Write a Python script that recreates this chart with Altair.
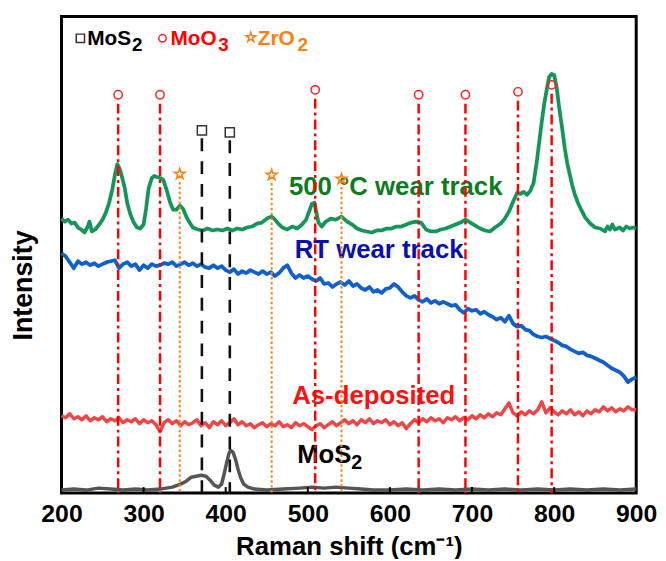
import altair as alt
import pandas as pd

FONT = "Liberation Sans"

# ---------------- data (intensity in arbitrary units) ----------------
grid5 = list(range(200, 905, 5))

rt_wear = [
    242, 239, 233, 227, 234, 231, 233, 230, 232, 229,
    231, 233, 234, 235, 227, 231, 233, 229, 231, 225,
    230, 227, 231, 229, 230, 232, 231, 233, 229, 231,
    233, 230, 232, 229, 231, 228, 227, 230, 227, 229,
    225, 223, 226, 221, 224, 222, 225, 223, 221, 224,
    221, 223, 219, 222, 227, 230, 222, 217, 220, 217,
    219, 216, 214, 217, 211, 212, 208, 211, 213, 210,
    214, 209, 211, 207, 205, 208, 203, 205, 202, 206,
    207, 211, 208, 203, 199, 197, 199, 195, 193, 196,
    192, 194, 191, 193, 191, 189, 190, 185, 182, 186,
    184, 185, 181, 183, 180, 178, 175, 177, 173, 179,
    171, 168, 169, 165, 164, 160, 158, 157, 158, 156,
    154, 152, 149, 148, 145, 143, 141, 142, 139, 138,
    136, 134, 132, 129, 126, 124, 122, 118, 112, 115,
    117,
]

as_dep = [
    78, 76, 80, 75, 77, 74, 78, 73, 76, 74,
    77, 72, 75, 73, 76, 71, 74, 72, 75, 70,
    74, 71, 73, 69, 62, 71, 74, 70, 73, 68,
    72, 69, 71, 74, 68, 71, 66, 72, 69, 73,
    68, 71, 75, 69, 72, 68, 70, 66, 69, 71,
    67, 70, 68, 72, 67, 69, 66, 71, 68, 70,
    67, 64, 68, 70, 66, 69, 72, 68, 71, 74,
    70, 73, 69, 74, 71, 75, 70, 73, 71, 74,
    69, 72, 68, 71, 65, 70, 74, 71, 75, 72,
    76, 73, 75, 71, 76, 74, 77, 73, 76, 74,
    78, 75, 79, 76, 80, 77, 81, 79, 85, 91,
    81, 78, 82, 79, 83, 80, 84, 92, 81, 86,
    82, 79, 83, 80, 84, 79, 82, 78, 83, 80,
    84, 82, 87, 83, 86, 82, 85, 83, 87, 84,
    84,
]

hot_x = [
    200, 204, 208, 212, 216, 220, 224, 228, 232, 234,
    237, 241, 246, 250, 254, 258, 262, 265, 268, 271,
    274, 277, 280, 284, 288, 292, 296, 300, 303, 306,
    310, 313, 316, 320, 324, 328, 332, 336, 340, 344,
    348, 352, 356, 360, 366, 372, 378, 384, 390, 396,
    402, 408, 414, 420, 426, 432, 438, 444, 450, 456,
    460, 464, 469, 475, 481, 487, 493, 498, 502, 505,
    508, 510, 513, 517, 522, 528, 534, 541, 548, 554,
    560, 566, 572, 578, 584, 590, 596, 602, 608, 614,
    620, 626, 632, 638, 644, 650, 656, 662, 668, 674,
    680, 686, 692, 698, 704, 710, 716, 722, 728, 735,
    740, 745, 750, 755, 759, 763, 767, 771, 775, 779,
    782, 785, 788, 791, 794, 797, 800, 803, 806, 810,
    813, 816, 819, 822, 825, 829, 833, 838, 844, 850,
    856, 862, 865, 868, 871, 874, 880, 884, 888, 892,
    896, 900,
]
hot_wear = [
    277, 274, 276, 272, 273, 268, 266, 263, 269, 274,
    264, 266, 271, 276, 283, 293, 307, 321, 332, 327,
    318, 308, 293, 281, 273, 268, 267, 271, 287, 307,
    318, 320, 319, 318, 316, 306, 294, 286, 286, 290,
    287, 279, 273, 268, 266, 265, 267, 265, 266, 265,
    267, 265, 267, 266, 268, 269, 272, 273, 277, 279,
    276, 272, 268, 266, 269, 267, 271, 276, 285, 292,
    293, 285, 273, 269, 274, 277, 276, 279, 274, 271,
    267, 265, 264, 263, 265, 265, 267, 267, 269, 269,
    271, 273, 274, 273, 266, 264, 264, 266, 267, 269,
    271, 273, 276, 273, 270, 267, 265, 264, 268, 272,
    277, 284, 294, 303, 302, 304, 301, 305, 313, 335,
    355, 375, 393, 407, 420, 423, 422, 410, 390, 367,
    348, 333, 322, 311, 302, 293, 286, 278, 272, 268,
    267, 264, 269, 266, 271, 266, 268, 265, 269, 267,
    268, 267,
]

mos2_x = [200, 215, 230, 245, 260, 275, 290, 305, 320, 335, 345, 352, 358, 364,
          370, 376, 381, 386, 391, 395, 398, 401, 404, 406, 409, 412, 415, 418,
          422, 427, 435, 450, 470, 490, 505, 520, 535, 550, 565, 580, 600, 620,
          640, 660, 680, 700, 720, 740, 760, 780, 800, 820, 840, 860, 880, 900]
mos2_ref = [3, 4, 3, 5, 4, 3, 4, 3, 4, 6, 9, 12, 16, 17,
            18, 17, 13, 8, 6, 9, 19, 30, 40, 43, 41, 34, 24, 16,
            9, 6, 4, 3, 4, 5, 6, 5, 6, 5, 4, 3, 3, 4,
            3, 4, 3, 4, 3, 4, 3, 4, 3, 4, 3, 4, 3, 4]

# peak assignments: position (cm-1) and marker height
moo3_pos = [269, 320, 509, 635, 692, 756, 797]
moo3_mark = [402, 402, 407, 402, 402, 405, 412]
mos2_pos = [371, 405]
mos2_mark = [366, 364]
zro2_pos = [344, 456, 541]
zro2_mark = [322, 321, 317]

x_ticks = [200, 300, 400, 500, 600, 700, 800, 900]

assert len(rt_wear) == len(grid5) == len(as_dep)
assert len(hot_x) == len(hot_wear)
assert len(mos2_x) == len(mos2_ref)

STAR = ("M0,-1L0.2245,-0.309L0.951,-0.309L0.3633,0.118L0.5878,0.809L0,0.382"
        "L-0.5878,0.809L-0.3633,0.118L-0.951,-0.309L-0.2245,-0.309Z")

# ---------------- scales / axes ----------------
xs = alt.Scale(domain=[200, 900], nice=False, zero=False)
ys = alt.Scale(domain=[0, 481], nice=False, zero=False)

x_axis = alt.Axis(orient="bottom", values=x_ticks, format="d", labelFont=FONT,
                  labelFontSize=25, labelFontWeight="bold", labelColor="black",
                  ticks=False, domain=False, grid=False, labelPadding=9,
                  labelFlush=False, title="Raman shift (cm⁻¹)", titleFont=FONT,
                  titleFontSize=26, titleFontWeight="bold", titleColor="black",
                  titlePadding=7)
y_axis = alt.Axis(orient="left", labels=False, ticks=False, domain=False, grid=False,
                  title="Intensity", titleFont=FONT, titleFontSize=27,
                  titleFontWeight="bold", titleColor="black",
                  titleX=-24, titleY=271)

X = alt.X("x:Q", scale=xs, axis=x_axis)
Y = alt.Y("y:Q", scale=ys, axis=y_axis)


def line_layer(xv, yv, color, width):
    df = pd.DataFrame({"x": xv, "y": yv})
    return alt.Chart(df).mark_line(color=color, strokeWidth=width,
                                   strokeJoin="round").encode(x=X, y=Y)


spectra = [
    line_layer(mos2_x, mos2_ref, "#555555", 3.5),
    line_layer(grid5, as_dep, "#EE4646", 3.5),
    line_layer(grid5, rt_wear, "#0E60CF", 3.8),
    line_layer(hot_x, hot_wear, "#14965A", 3.8),
]


def rule_layer(pos, mark, gap, color, width, dash):
    df = pd.DataFrame({"x": pos, "y": [m - gap for m in mark], "y2": [0] * len(pos)})
    return alt.Chart(df).mark_rule(color=color, strokeWidth=width,
                                   strokeDash=dash).encode(x=X, y=Y, y2="y2:Q")


def marker_layer(pos, mark, shape, color, size):
    df = pd.DataFrame({"x": pos, "y": mark})
    return alt.Chart(df).mark_point(shape=shape, filled=False, color=color,
                                    size=size, strokeWidth=1.5, opacity=1).encode(x=X, y=Y)


rules = [
    rule_layer(moo3_pos, moo3_mark, 9, "#FF0000", 2.5, [10, 4, 3, 4]),
    rule_layer(mos2_pos, mos2_mark, 8, "#111111", 2.6, [13, 10]),
    rule_layer(zro2_pos, zro2_mark, 8, "#FF7F10", 2, [2.5, 2.5]),
]
markers = [
    marker_layer(moo3_pos, moo3_mark, "circle", "#FF2020", 70),
    marker_layer(mos2_pos, mos2_mark, "square", "#333333", 85),
    marker_layer(zro2_pos, zro2_mark, STAR, "#FF7F10", 130),
]

# inward ticks on the bottom edge
tick_df = pd.DataFrame({"x": x_ticks[1:-1], "y": [6] * 6, "y2": [0] * 6})
ticks = alt.Chart(tick_df).mark_rule(color="black", strokeWidth=2).encode(x=X, y=Y, y2="y2:Q")

# ---------------- text annotations ----------------
label_df = pd.DataFrame({
    "x": [477, 484, 481, 487],
    "y": [309, 245, 98, 38],
    "text": ["500 °C wear track", "RT wear track", "As-deposited", "MoS"],
    "color": ["#0C7C1C", "#0A10B0", "#FF1010", "#000000"],
})
sub_df = pd.DataFrame({"x": [553], "y": [30], "text": ["2"], "color": ["#000000"]})

legend_df = pd.DataFrame({
    "x": [231.4, 332.8, 439],
    "y": [458.5, 458.5, 458.5],
    "text": ["MoS", "MoO", "ZrO"],
    "color": ["#000000", "#FF0000", "#FF7F10"],
})
legend_sub_df = pd.DataFrame({
    "x": [286, 391, 487.6],
    "y": [452.5, 452.5, 452.5],
    "text": ["2", "3", "2"],
    "color": ["#000000", "#FF0000", "#FF7F10"],
})


def text_layer(df, size):
    return alt.Chart(df).mark_text(align="left", baseline="middle", font=FONT,
                                   fontSize=size, fontWeight="bold").encode(
        x=X, y=Y, text="text:N", color=alt.Color("color:N", scale=None))


texts = [
    text_layer(label_df, 26),
    text_layer(sub_df, 20),
    text_layer(legend_df, 21),
    text_layer(legend_sub_df, 19),
]

legend_marks = [
    marker_layer([223], [459], "square", "#333333", 70),
    marker_layer([323], [459], "circle", "#FF2020", 55),
    marker_layer([430.5], [460], STAR, "#FF7F10", 110),
]

chart = alt.layer(*spectra, *texts, ticks, *rules, *markers, *legend_marks).resolve_axis(
    x="shared", y="shared"
).properties(
    width=580, height=481,
    autosize=alt.AutoSizeParams(type="none"),
    padding={"left": 54, "top": 6, "right": 22, "bottom": 64},
    background="white",
).configure_view(stroke="black", strokeWidth=3)

chart.save("out.html", embed_options={"renderer": "svg", "actions": False})
